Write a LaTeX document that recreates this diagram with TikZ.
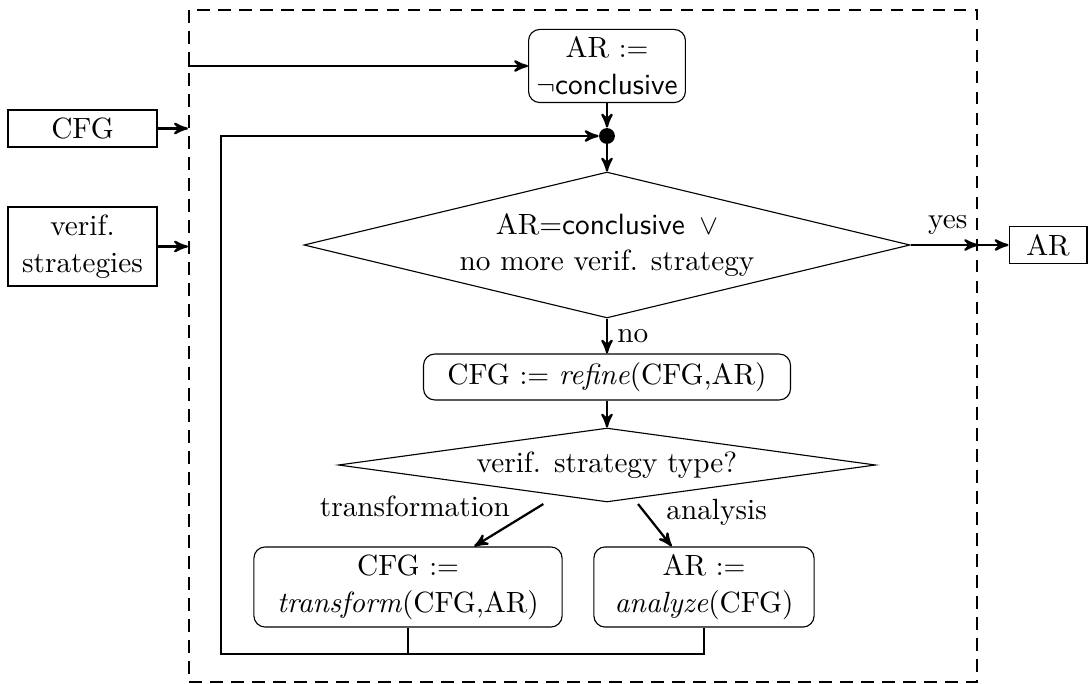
\documentclass[tikz,border=0pt]{standalone}
\usetikzlibrary{arrows,shapes,positioning,calc}

\begin{document}
\begin{tikzpicture}[x=0.357pt,y=-0.357pt,font=\fontsize{10.45pt}{13.1pt}\selectfont]
\tikzset{box/.style={draw,rounded corners,align=center,inner sep=2pt},
io/.style={draw,align=center,inner sep=2pt,minimum width=53.2pt},
decision/.style={draw,diamond,align=center,inner sep=0pt},
flow/.style={draw,thick,->,>=stealth'}}
\useasboundingbox (0,0) rectangle (1088,684);

\node[draw,thick,dash pattern=on 4.5pt off 3pt,inner sep=0pt,
minimum width=281.3pt,minimum height=239.9pt] (frame) at (583,346) {};

\node[io,minimum height=13.2pt] (cfg) at (82.5,128.5) {CFG};
\node[io,minimum height=28.2pt] (strategies) at (82.5,246.5) {verif.\\strategies};
\node[io,minimum width=27.8pt,minimum height=13.2pt] (result) at (1048,245) {AR};

\node[box,minimum width=56pt,minimum height=26.1pt] (init) at (607,66) {AR $:=$\\$\neg$\textsf{conclusive}};
\node[circle,fill,inner sep=2pt] (join) at (607,136) {};
\node[decision,aspect=4.15,minimum width=216.4pt,minimum height=52.1pt] (check) at (607,245)
{AR=\textsf{conclusive}\enskip$\vee$\\no more verif. strategy};
\node[box,minimum width=131pt,minimum height=16.4pt] (refine) at (607,377) {CFG $:=$ \textit{refine}(CFG,AR)};
\node[decision,aspect=7.26,minimum width=191.8pt,minimum height=26.4pt] (type) at (607,465) {verif. strategy type?};
\node[box,minimum width=110pt,minimum height=28.6pt] (transform) at (408,587) {CFG $:=$\\\textit{transform}(CFG,AR)};
\node[box,minimum width=78.6pt,minimum height=28.6pt] (analyze) at (704,587) {AR $:=$\\\textit{analyze}(CFG)};
\coordinate (back) at (221,654);

% inputs and output
\draw[flow] (cfg) -- (cfg -| frame.west);
\draw[flow] (strategies) -- (strategies -| frame.west);
\draw[flow] (frame.west |- init) -- (init);
\draw[flow] (check) -- node[above,pos=0.55] {yes} (check -| frame.east);
\draw[flow] (check -| frame.east) -- (result);

% main loop
\draw[flow] (init) -- (join);
\draw[flow] (join) -- (check);
\draw[flow] (check) -- node[right] {no} (refine);
\draw[flow] (refine) -- (type);
\draw[flow] ($(type)!0.32!(transform)$) -- node[pos=0.05,left=7pt] {transformation} (transform);
\draw[flow] ($(type)!0.32!(analyze)$) -- node[pos=0.2,right=4pt] {analysis} (analyze);
\draw[thick] (transform) -- (transform |- back);
\draw[flow] (analyze) |- (back) |- (join);
\end{tikzpicture}
\end{document}
